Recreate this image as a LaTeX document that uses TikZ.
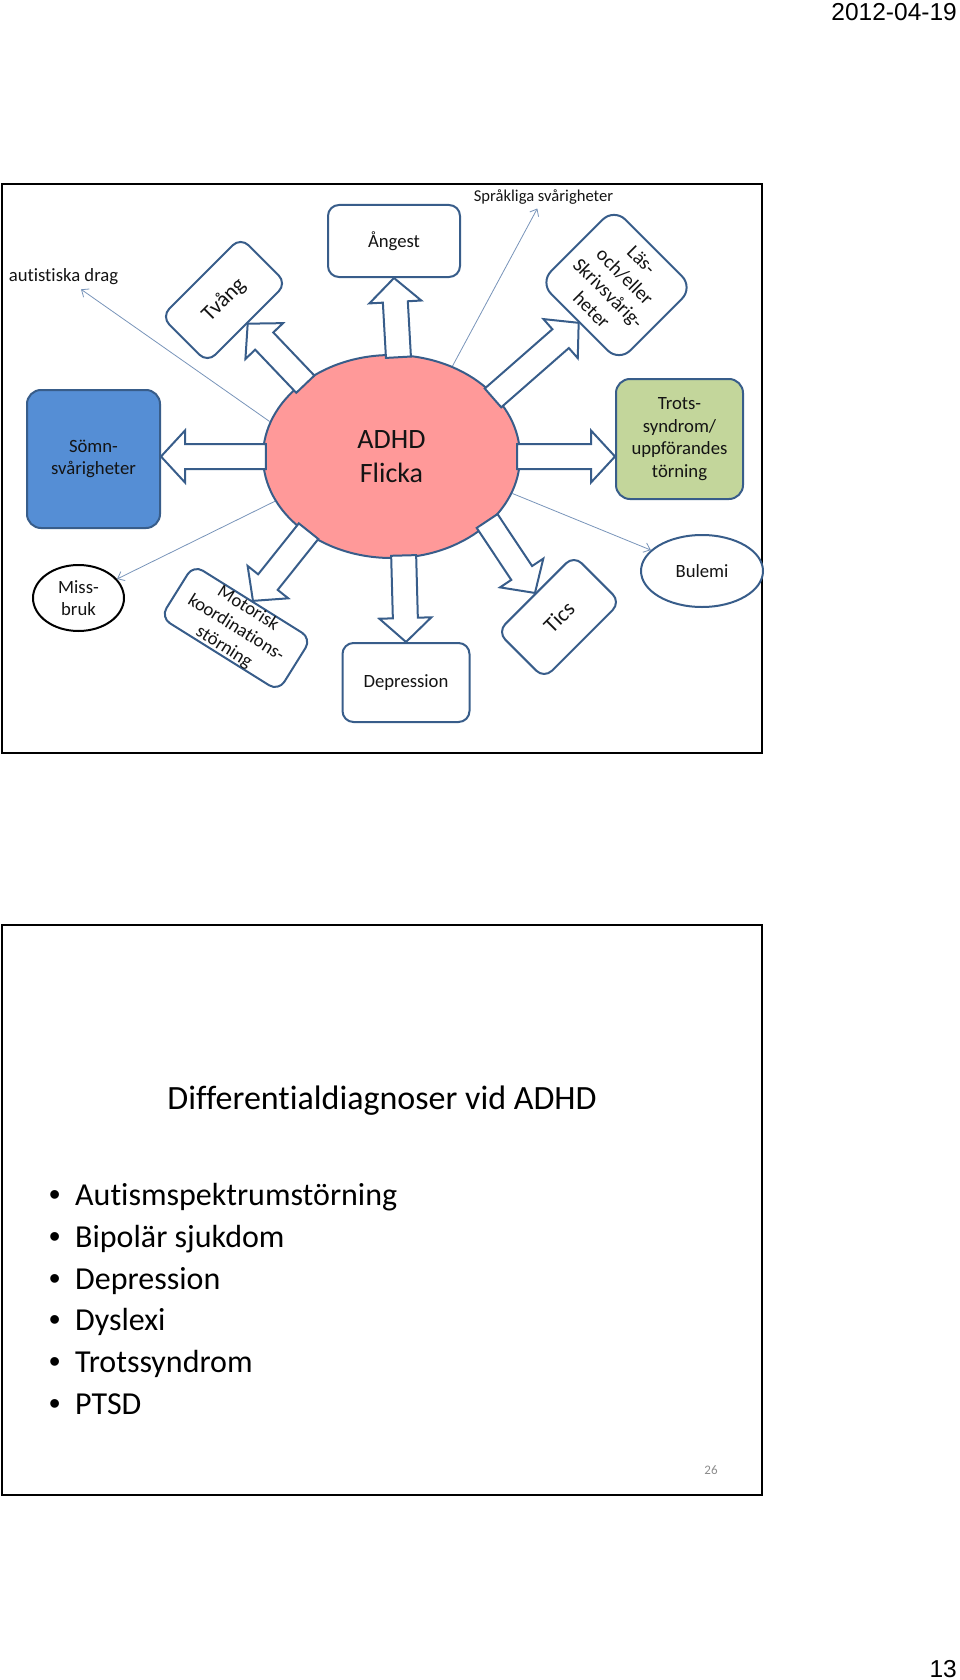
\documentclass[tikz,border=0pt]{standalone}
\usepackage{fontspec}
\setmainfont{Carlito}[Ligatures=NoCommon]
\newfontfamily\arialfont{Liberation Sans}
\usetikzlibrary{calc,arrows.meta,shapes.geometric}

\definecolor{bord}{RGB}{56,93,138}
\definecolor{thinc}{RGB}{120,148,185}
\definecolor{somnfill}{RGB}{85,142,213}
\definecolor{trotsfill}{RGB}{195,214,155}
\definecolor{adhdfill}{RGB}{255,153,153}
\definecolor{txt}{RGB}{20,20,20}
\definecolor{pgnum}{RGB}{140,140,140}

\newcommand{\dfont}{\fontsize{18.7pt}{22.7pt}\selectfont}
\newcommand{\bigfont}{\fontsize{28pt}{34pt}\selectfont}
\newcommand{\blockarrow}[2]{%
  \coordinate (ba-b) at ($(#2)!24pt!(#1)$);
  \draw[barrow] ($(#1)!12.5pt!90:(#2)$) -- ($(ba-b)!12.5pt!90:(#2)$) -- ($(ba-b)!26pt!90:(#2)$) -- (#2)
    -- ($(ba-b)!26pt!-90:(#2)$) -- ($(ba-b)!12.5pt!-90:(#2)$) -- ($(#1)!12.5pt!-90:(#2)$) -- cycle;
}

\begin{document}
\begin{tikzpicture}[x=1pt,y=-1pt,
  rbox/.style={draw=bord, line width=2pt, fill=white, rounded corners=11pt, align=center,
               font=\dfont, text=txt, inner sep=2pt},
  barrow/.style={draw=bord, line width=2pt, fill=white, line join=miter},
  thinarr/.style={draw=thinc, line width=0.8pt, -{Straight Barb[length=6pt,width=10pt]}},
  bullet/.style={anchor=west, inner sep=0pt, font=\fontsize{32pt}{38pt}\selectfont,
                 text height=22pt, text depth=7pt, text=black},
  frame/.style={draw=black, line width=2pt}
]
\useasboundingbox (0,0) rectangle (960,1680);

% header / footer
\node[font=\arialfont\fontsize{24.5pt}{28pt}\selectfont, anchor=east, inner sep=0pt] (date) at (957,12.5) {2012-04-19};
\node[font=\arialfont\fontsize{24.5pt}{28pt}\selectfont, anchor=east, inner sep=0pt] (pg) at (957,1669) {13};

% ===== upper slide =====
\draw[frame] (2,184) rectangle (762,753);

\node[ellipse, draw=bord, line width=2pt, fill=adhdfill, minimum width=257pt, minimum height=203pt,
      inner sep=0pt, align=center, font=\bigfont, text=txt] (adhd) at (391.5,456.5) {ADHD\\Flicka};

\node[rbox, minimum width=132pt, minimum height=72pt] (angest) at (394,241) {Ångest};
\node[rbox, fill=somnfill, rounded corners=14pt, minimum width=133pt, minimum height=138pt] (somn) at (93.5,459) {Sömn-\\svårigheter};
\node[rbox, fill=trotsfill, rounded corners=14pt, minimum width=127pt, minimum height=120pt] (trots) at (679.5,439) {Trots-\\syndrom/\\uppförandes\\törning};
\node[rbox, minimum width=127pt, minimum height=79pt] (depr) at (406,682.5) {Depression};
\node[rbox, rotate=45, minimum width=112pt, minimum height=65pt, font=\fontsize{22pt}{26pt}\selectfont] (tvang) at (224,300) {Tvång};
\node[rbox, rotate=-45, rounded corners=16pt, minimum width=112pt, minimum height=105pt,
      font=\fontsize{19.6pt}{23.6pt}\selectfont] (las) at (616.5,285) {Läs-\\och/eller\\Skrivsvårig-\\heter};
\node[rbox, rotate=45, minimum width=108pt, minimum height=66pt, font=\fontsize{22pt}{26pt}\selectfont] (tics) at (559,617) {Tics};
\node[rbox, rotate=-32, minimum width=139pt, minimum height=62pt, inner sep=0pt] (motor) at (236,628) {Motorisk\\koordinations-\\störning};
\node[ellipse, draw=black, line width=2pt, fill=white, minimum width=91pt, minimum height=66pt,
      inner sep=0pt, align=center, font=\dfont, text=txt] (miss) at (78.5,598) {Miss-\\bruk};
\node[ellipse, draw=bord, line width=2pt, fill=white, minimum width=122pt, minimum height=72pt,
      inner sep=0pt, font=\dfont, text=txt] (bul) at (702,571) {Bulemi};

\node[font=\dfont, text=txt, inner sep=4pt] (aut) at (63.5,277) {autistiska drag};
\node[font=\fontsize{16.6pt}{20pt}\selectfont, text=txt, inner sep=4pt] (spr) at (543.5,197) {Språkliga svårigheter};

% start points of block arrows (just inside the ellipse)
\coordinate (s-ang) at ($(adhd.center)!0.97!(adhd.86)$);
\coordinate (s-tva) at ($(adhd.center)!0.97!(adhd.140)$);
\coordinate (s-las) at ($(adhd.center)!0.97!(adhd.30)$);
\coordinate (s-tro) at ($(adhd.center)!0.97!(adhd.0)$);
\coordinate (s-som) at ($(adhd.center)!0.97!(adhd.180)$);
\coordinate (s-dep) at ($(adhd.center)!0.97!(adhd.277)$);
\coordinate (s-mot) at ($(adhd.center)!0.97!(adhd.222)$);
\coordinate (s-tic) at ($(adhd.center)!0.97!(adhd.326)$);
\coordinate (t-tro) at (trots.west |- adhd.east);
\coordinate (t-som) at (somn.east |- adhd.west);

\blockarrow{s-ang}{angest.south}
\blockarrow{s-tva}{tvang.south}
\blockarrow{s-las}{las.south}
\blockarrow{s-tro}{t-tro}
\blockarrow{s-som}{t-som}
\blockarrow{s-dep}{depr.north}
\blockarrow{s-mot}{motor.north}
\blockarrow{s-tic}{tics.north}

\draw[thinarr] (adhd.164) -- (aut);
\draw[thinarr] (adhd.56) -- (spr);
\draw[thinarr] (adhd.201) -- (miss);
\draw[thinarr] (adhd.343) -- (bul);

% ===== lower slide =====
\draw[frame] (2,925) rectangle (762,1495);
\node[font=\fontsize{34pt}{40pt}\selectfont, text=black] (title) at (382,1101) {Differentialdiagnoser vid ADHD};
\node[bullet] (b1) at (49,1198) {\makebox[26pt][l]{\arialfont •}Autismspektrumstörning};
\node[bullet] (b2) at (49,1239.8) {\makebox[26pt][l]{\arialfont •}Bipolär sjukdom};
\node[bullet] (b3) at (49,1281.6) {\makebox[26pt][l]{\arialfont •}Depression};
\node[bullet] (b4) at (49,1323.4) {\makebox[26pt][l]{\arialfont •}Dyslexi};
\node[bullet] (b5) at (49,1365.2) {\makebox[26pt][l]{\arialfont •}Trotssyndrom};
\node[bullet] (b6) at (49,1407) {\makebox[26pt][l]{\arialfont •}PTSD};
\node[font=\fontsize{13pt}{15pt}\selectfont, text=pgnum] (num) at (711,1470) {26};
\end{tikzpicture}
\end{document}
